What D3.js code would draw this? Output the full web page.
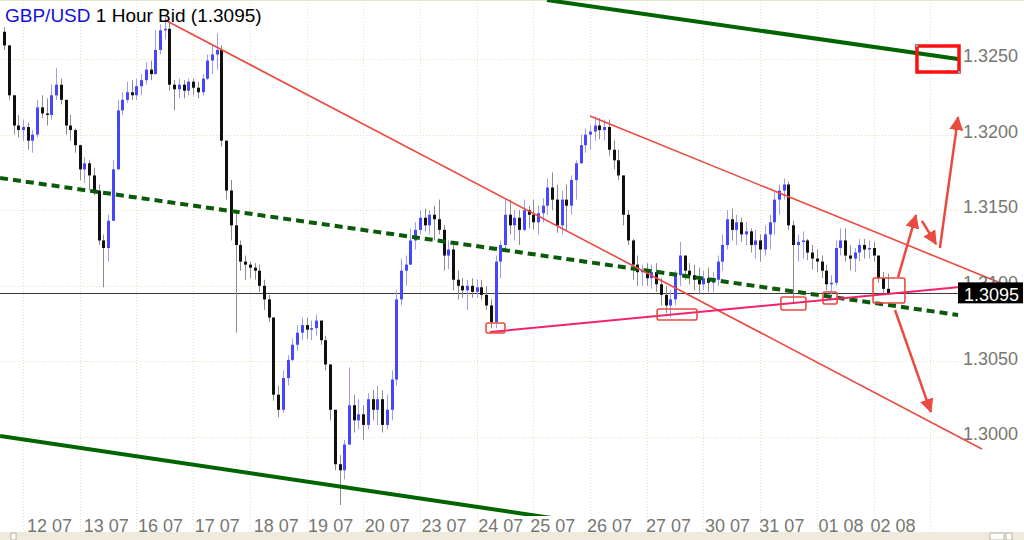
<!DOCTYPE html>
<html>
<head>
<meta charset="utf-8">
<title>GBP/USD 1 Hour Bid</title>
<style>
body { margin: 0; background: #fff; }
svg { display: block; font-family: "Liberation Sans", Arial, sans-serif; }
.grid line { stroke: #e6e0c0; stroke-width: 1; stroke-dasharray: 1,2; }
</style>
</head>
<body>
<script src="https://cdnjs.cloudflare.com/ajax/libs/d3/7.8.5/d3.min.js"></script>
<script>

// 2-hour bars, prices in pips above 1.3000
var base = 1.3000;
var firstOpen = 268;
var closes = [259,226,206,203,205,196,200,218,214,213,226,233,223,206,203,193,177,181,173,163,
  130,125,143,177,216,223,228,226,232,236,243,240,256,269,270,233,230,233,229,235,
  231,228,237,249,253,256,196,163,140,127,116,114,112,110,100,91,79,28,18,39,
  51,61,69,74,71,72,77,64,48,18,-18,-22,-5,21,11,15,8,25,18,25,
  8,18,38,91,110,114,130,137,145,140,147,144,137,120,124,104,100,97,100,96,
  99,94,87,76,116,127,147,140,145,137,150,147,142,148,153,165,157,140,157,153,
  170,181,193,200,202,206,203,205,190,183,173,147,130,114,109,110,105,109,101,94,
  87,91,107,120,110,107,104,101,105,102,104,116,127,144,137,142,134,136,127,130,
  124,134,142,157,163,167,140,127,129,130,122,118,116,110,101,102,125,130,120,118,
  122,127,124,125,120,105,98,95];
var highs = [271,250,218,213,210,208,203,223,226,224,233,244,237,223,213,204,193,185,183,178,
  167,134,147,183,223,228,235,236,237,240,248,249,269,273,278,275,236,237,236,237,
  237,235,240,253,259,267,259,196,170,150,130,120,116,115,114,104,94,79,34,44,
  54,65,74,79,79,77,81,76,67,48,18,-12,-2,46,28,25,21,29,31,34,
  31,28,44,97,118,120,138,142,150,151,150,153,157,140,130,127,110,105,104,105,
  104,104,100,91,120,130,158,157,150,150,157,153,157,153,158,171,175,167,163,167,
  173,183,200,204,206,212,211,210,210,196,190,173,150,131,120,114,115,114,115,105,
  100,97,110,129,120,115,114,112,110,112,109,120,134,150,151,147,145,142,138,137,
  134,140,147,162,167,171,169,143,134,136,131,127,124,120,114,107,130,138,138,127,
  125,131,131,130,129,120,109,108];
var lows = [256,223,200,198,196,190,188,198,211,206,210,223,220,200,196,188,170,168,163,160,
  127,99,116,143,177,213,221,223,223,226,233,236,240,253,263,229,216,224,224,226,
  226,224,226,236,240,243,192,157,130,69,110,104,105,104,96,84,76,24,13,16,
  34,50,57,64,65,64,67,61,44,11,-22,-45,-28,-5,3,5,-2,5,11,8,
  3,5,11,34,87,100,114,124,134,136,134,130,134,110,111,97,91,92,84,92,
  92,91,84,72,72,105,124,134,130,127,136,138,137,134,142,147,150,135,134,137,
  147,157,181,188,190,196,197,196,186,177,170,140,127,104,100,100,100,98,96,87,
  82,79,87,100,104,101,97,94,97,96,96,100,110,124,130,127,129,127,122,118,
  116,120,124,134,147,157,137,88,116,118,117,111,109,105,97,93,100,120,116,110,
  109,116,118,118,116,102,95,94];

// hours counted from the start of 12 07; the first bar starts 9 hours earlier
var firstHour = -9;
var barHours = 2;
var dayLabels = ["12 07","13 07","16 07","17 07","18 07","19 07","20 07","23 07",
  "24 07","25 07","26 07","27 07","30 07","31 07","01 08","02 08"];
var dayLabelHours = [11,35,58,82,107,130,154,178,202,224,248,273,298,321,346,368];
var priceTicks = [1.3000, 1.3050, 1.3100, 1.3150, 1.3200, 1.3250];
var lastPrice = 1.3095;

// drawn studies: [hour, price] pairs
var greenUpper = [[221.8, 1.32890], [395.8, 1.32500]];
var greenLower = [[-9.7, 1.30007], [260, 1.29380]];
var greenMid = [[-9.7, 1.31713], [395.8, 1.30807]];
var redLong = [[60.1, 1.32758], [405.9, 1.29921]];
var redUpper = [[240, 1.32123], [416.9, 1.30999]];
var pinkSupport = [[197.7, 1.30694], [396.6, 1.30992]];
var marks = [[196.0, 204.0, 1.30754, 1.30688], [268.4, 285.3, 1.30847, 1.30774],
  [320.8, 331.4, 1.30926, 1.30840], [338.6, 344.6, 1.30959, 1.30880],
  [359.8, 373.3, 1.31052, 1.30886]];
var bigMark = [378.4, 396.2, 1.32586, 1.32414];
var arrows = [[[370.4, 1.31058], [378.0, 1.31468]], [[380.5, 1.31429], [386.5, 1.31276]],
  [[388.1, 1.31250], [395.8, 1.32116]], [[369.1, 1.30840], [384.3, 1.30165]]];

var width = 1024, height = 540,
    plotRight = 958, plotBottom = 516;

var x = d3.scaleLinear().domain([0, 384]).range([23, 930.2]);
var y = d3.scaleLinear().domain([1.3000, 1.3250]).range([437, 59]);

var svg = d3.select("body").append("svg")
    .attr("width", width)
    .attr("height", height);

svg.append("rect").attr("width", width).attr("height", height).attr("fill", "#fff");

svg.append("defs").append("clipPath").attr("id", "plot")
  .append("rect").attr("x", 0).attr("y", 0).attr("width", width).attr("height", plotBottom);

// grid
var grid = svg.append("g").attr("class", "grid");
grid.selectAll(".v").data(d3.range(0, 17)).enter().append("line")
    .attr("x1", function(d) { return Math.round(x(d * 24)) + 0.5; })
    .attr("x2", function(d) { return Math.round(x(d * 24)) + 0.5; })
    .attr("y1", 0).attr("y2", 530);
grid.selectAll(".h").data(priceTicks).enter().append("line")
    .attr("x1", 0).attr("x2", plotRight)
    .attr("y1", function(d) { return Math.round(y(d)) + 0.5; })
    .attr("y2", function(d) { return Math.round(y(d)) + 0.5; });

svg.append("line").attr("x1", 0).attr("x2", width).attr("y1", 0.5).attr("y2", 0.5)
    .attr("stroke", "#e8e4d0");

// last price line
svg.append("line")
    .attr("x1", 0).attr("x2", plotRight)
    .attr("y1", Math.round(y(lastPrice)) + 0.5).attr("y2", Math.round(y(lastPrice)) + 0.5)
    .attr("stroke", "#3a3a3a").attr("stroke-width", 1);

// bars
var bars = closes.map(function(c, i) {
  var o = i === 0 ? firstOpen : closes[i - 1];
  return {
    t: firstHour + barHours * i + barHours / 2,
    o: base + o / 10000, c: base + c / 10000,
    h: base + Math.max(highs[i], o, c) / 10000,
    l: base + Math.min(lows[i], o, c) / 10000
  };
});

var barG = svg.append("g").attr("clip-path", "url(#plot)");
barG.selectAll(".wick").data(bars).enter().append("line")
    .attr("x1", function(d) { return Math.round(x(d.t)) + 0.5; })
    .attr("x2", function(d) { return Math.round(x(d.t)) + 0.5; })
    .attr("y1", function(d) { return y(d.h); })
    .attr("y2", function(d) { return y(d.l); })
    .attr("stroke", function(d) { return d.c >= d.o ? "#9c9cff" : "#8c8c8c"; })
    .attr("stroke-width", 1);
barG.selectAll(".body").data(bars).enter().append("rect")
    .attr("x", function(d) { return Math.round(x(d.t)) - 1; })
    .attr("width", 3)
    .attr("y", function(d) { return y(Math.max(d.o, d.c)); })
    .attr("height", function(d) { return Math.max(1, Math.abs(y(d.o) - y(d.c))); })
    .attr("fill", function(d) { return d.c >= d.o ? "#4646ff" : "#101010"; });

// studies
var line = d3.line().x(function(d) { return x(d[0]); }).y(function(d) { return y(d[1]); });
var studies = svg.append("g").attr("clip-path", "url(#plot)");

studies.append("path").datum(greenUpper).attr("d", line)
    .attr("fill", "none").attr("stroke", "#006400").attr("stroke-width", 4);
studies.append("path").datum(greenLower).attr("d", line)
    .attr("fill", "none").attr("stroke", "#006400").attr("stroke-width", 4);
studies.append("path").datum(greenMid).attr("d", line)
    .attr("fill", "none").attr("stroke", "#0a5a0a").attr("stroke-width", 4)
    .attr("stroke-dasharray", "8,5");
studies.append("path").datum(redLong).attr("d", line)
    .attr("fill", "none").attr("stroke", "#ea4a40").attr("stroke-width", 1.6);
studies.append("path").datum(redUpper).attr("d", line)
    .attr("fill", "none").attr("stroke", "#ea4a40").attr("stroke-width", 1.6);
studies.append("path").datum(pinkSupport).attr("d", line)
    .attr("fill", "none").attr("stroke", "#f2236e").attr("stroke-width", 2);

studies.selectAll(".mark").data(marks).enter().append("rect")
    .attr("x", function(d) { return x(d[0]); })
    .attr("y", function(d) { return y(d[2]); })
    .attr("width", function(d) { return x(d[1]) - x(d[0]); })
    .attr("height", function(d) { return y(d[3]) - y(d[2]); })
    .attr("rx", 2)
    .attr("fill", "none").attr("stroke", "#ea4a40").attr("stroke-width", 1.6);

studies.append("rect")
    .attr("x", x(bigMark[0])).attr("y", y(bigMark[2]))
    .attr("width", x(bigMark[1]) - x(bigMark[0]))
    .attr("height", y(bigMark[3]) - y(bigMark[2]))
    .attr("fill", "none").attr("stroke", "#ff1010").attr("stroke-width", 3.5);
studies.selectAll(".handle").data([[bigMark[0], bigMark[2]], [bigMark[1], bigMark[3]]])
  .enter().append("rect")
    .attr("x", function(d) { return x(d[0]) - 1; })
    .attr("y", function(d) { return y(d[1]) - 1; })
    .attr("width", 2).attr("height", 2)
    .attr("fill", "#33d6d6");

svg.select("defs").append("marker")
    .attr("id", "head")
    .attr("viewBox", "0 0 14 14")
    .attr("refX", 13).attr("refY", 7)
    .attr("markerWidth", 14).attr("markerHeight", 14)
    .attr("markerUnits", "userSpaceOnUse")
    .attr("orient", "auto")
  .append("path")
    .attr("d", "M0,0L14,7L0,14Z")
    .attr("fill", "#ea4a40");

studies.selectAll(".arrow").data(arrows).enter().append("path")
    .attr("d", line)
    .attr("fill", "none").attr("stroke", "#ea4a40").attr("stroke-width", 2.5)
    .attr("marker-end", "url(#head)");

// axes
var xAxis = svg.append("g")
    .attr("transform", "translate(0," + 519 + ")")
    .call(d3.axisBottom(x).tickValues(dayLabelHours)
      .tickFormat(function(d, i) { return dayLabels[i]; })
      .tickSize(0).tickPadding(0));
xAxis.select(".domain").remove();
xAxis.selectAll("text").attr("font-size", 18).attr("font-family", "Liberation Sans, Arial, sans-serif")
    .attr("fill", "#77776f");

var yAxis = svg.append("g")
    .attr("transform", "translate(" + plotRight + ",0)")
    .call(d3.axisRight(y).tickValues(priceTicks).tickFormat(d3.format(".4f"))
      .tickSize(0).tickPadding(5));
yAxis.select(".domain").remove();
yAxis.selectAll("text").attr("font-size", 18).attr("font-family", "Liberation Sans, Arial, sans-serif")
    .attr("fill", "#77776f").attr("dy", "0.15em");

// last price box
svg.append("rect")
    .attr("x", plotRight).attr("y", y(lastPrice) - 11)
    .attr("width", 65).attr("height", 21)
    .attr("fill", "#000");
svg.append("text")
    .attr("x", plotRight + 6).attr("y", y(lastPrice) + 8)
    .attr("font-size", 18).attr("fill", "#fff")
    .text(d3.format(".4f")(lastPrice));

// bottom strip
svg.append("rect").attr("x", 0).attr("y", 532).attr("width", width).attr("height", 8)
    .attr("fill", "#eeebdc");
svg.append("rect").attr("x", 11).attr("y", 533).attr("width", 5).attr("height", 7)
    .attr("fill", "#fff").attr("stroke", "#b8b4a4");
svg.append("rect").attr("x", 990).attr("y", 533).attr("width", 14).attr("height", 7)
    .attr("fill", "#fff").attr("stroke", "#b8b4a4");
svg.append("rect").attr("x", 1006).attr("y", 533).attr("width", 6).attr("height", 7)
    .attr("fill", "#fff").attr("stroke", "#b8b4a4");

// title
var title = svg.append("text").attr("x", 5).attr("y", 22).attr("font-size", 19);
title.append("tspan").attr("fill", "#1010e0").text("GBP/USD");
title.append("tspan").attr("fill", "#000").text(" 1 Hour Bid (1.3095)");

</script>
</body>
</html>
